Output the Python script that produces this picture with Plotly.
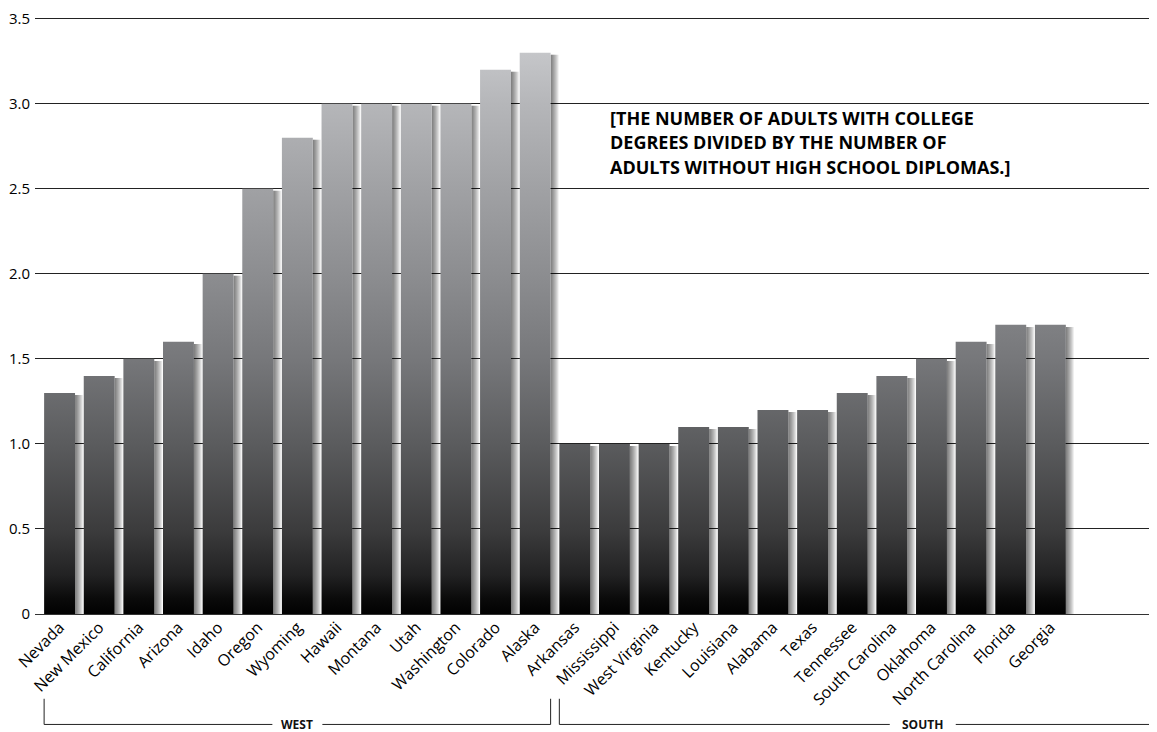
import plotly.graph_objects as go

states = ["Nevada", "New Mexico", "California", "Arizona", "Idaho", "Oregon", "Wyoming",
          "Hawaii", "Montana", "Utah", "Washington", "Colorado", "Alaska",
          "Arkansas", "Mississippi", "West Virginia", "Kentucky", "Louisiana", "Alabama",
          "Texas", "Tennessee", "South Carolina", "Oklahoma", "North Carolina", "Florida", "Georgia"]
values = [1.3, 1.4, 1.5, 1.6, 2.0, 2.5, 2.8, 3.0, 3.0, 3.0, 3.0, 3.2, 3.3,
          1.0, 1.0, 1.0, 1.1, 1.1, 1.2, 1.2, 1.3, 1.4, 1.5, 1.6, 1.7, 1.7]
regions = ["WEST"] * 13 + ["SOUTH"] * 13
ytick_vals = [0, 0.5, 1.0, 1.5, 2.0, 2.5, 3.0, 3.5]
ytick_text = ["0", "0.5", "1.0", "1.5", "2.0", "2.5", "3.0", "3.5"]
note_lines = ["[THE NUMBER OF ADULTS WITH COLLEGE",
              "DEGREES DIVIDED BY THE NUMBER OF",
              "ADULTS WITHOUT HIGH SCHOOL DIPLOMAS.]"]

W = 0.78          # bar width in category units
YMAX = 3.5
XMIN, XMAX = -0.62, 27.69
FONT = "Open Sans"
PX = 1 / 39.64    # one pixel in x data units

fig = go.Figure()

# soft drop shadows (layered translucent strips right of each bar)
for k in range(8, 0, -1):
    off = k * PX
    xs, ys = [], []
    for i, v in enumerate(values):
        x0 = i + W / 2
        x1 = x0 + off
        top = v - 0.012
        xs += [x0, x1, x1, x0, x0, None]
        ys += [0, 0, top, top, 0, None]
    fig.add_trace(go.Scatter(x=xs, y=ys, mode="lines", line=dict(width=0),
                             fill="toself", fillcolor="rgba(0,0,0,0.08)",
                             hoverinfo="skip", showlegend=False))

# bars with global vertical gradient
bx, by = [], []
for i, v in enumerate(values):
    bx += [i - W / 2, i + W / 2, i + W / 2, i - W / 2, i - W / 2, None]
    by += [0, 0, v, v, 0, None]
fig.add_trace(go.Scatter(
    x=bx, y=by, mode="lines", line=dict(width=0), fill="toself",
    fillgradient=dict(type="vertical", start=0, stop=YMAX,
                      colorscale=[[0.0, "#000000"], [0.03, "#0a0a0a"], [0.07, "#222223"],
                                  [0.143, "#3b3b3c"], [0.286, "#5a5b5d"], [0.429, "#76777a"],
                                  [0.571, "#8c8d90"], [0.714, "#a0a1a4"], [0.857, "#b5b6b9"],
                                  [0.943, "#c5c6c9"], [1.0, "#cdced0"]]),
    hoverinfo="skip", showlegend=False))

# region brackets under the axis labels
west_idx = [i for i, r in enumerate(regions) if r == "WEST"]
south_idx = [i for i, r in enumerate(regions) if r == "SOUTH"]
yb_top, yb = -0.142, -0.185
wx0, wx1 = west_idx[0] - W / 2, west_idx[-1] + W / 2
sx0 = south_idx[0] - W / 2
wc, wg = (wx0 + wx1) / 2, 25 * PX
sc, sg = 21.78, 33 * PX
line_style = dict(color="#222222", width=1)
fig.add_shape(type="path", xref="x", yref="paper",
              path=f"M {wc - wg},{yb} L {wx0},{yb} L {wx0},{yb_top}", line=line_style)
fig.add_shape(type="path", xref="x", yref="paper",
              path=f"M {wc + wg},{yb} L {wx1},{yb} L {wx1},{yb_top}", line=line_style)
fig.add_shape(type="path", xref="x", yref="paper",
              path=f"M {sc - sg},{yb} L {sx0},{yb} L {sx0},{yb_top}", line=line_style)
fig.add_shape(type="line", xref="x", yref="paper", x0=sc + sg, x1=XMAX, y0=yb, y1=yb,
              line=line_style)
fig.add_annotation(x=wc, y=yb, xref="x", yref="paper", text="<b>WEST</b>",
                   showarrow=False, yanchor="middle",
                   font=dict(family=FONT, size=12, color="#111"))
fig.add_annotation(x=sc, y=yb, xref="x", yref="paper", text="<b>SOUTH</b>",
                   showarrow=False, yanchor="middle",
                   font=dict(family=FONT, size=12, color="#111"))

for k, line in enumerate(note_lines):
    fig.add_annotation(x=0.511, y=0.855 - k * 25 / 600, xref="paper", yref="paper", text=line,
                       xanchor="left", yanchor="top", align="left", showarrow=False,
                       font=dict(family=FONT, size=18, color="#000", weight=700))

# page body has an 8px default margin, so the figure is sized to fit inside it
fig.update_layout(
    width=1149, height=724,
    margin=dict(l=27, r=0, t=6, b=118),
    paper_bgcolor="white", plot_bgcolor="white",
    font=dict(family=FONT, color="#000"),
    showlegend=False,
)
fig.update_xaxes(range=[XMIN, XMAX], tickvals=list(range(len(states))), ticktext=states,
                 tickangle=-45, showgrid=False, zeroline=False, showline=False,
                 ticks="", tickfont=dict(family=FONT, size=16, color="#000"), fixedrange=True)
fig.update_yaxes(range=[0, 3.51], tickvals=ytick_vals, ticktext=ytick_text,
                 showgrid=True, gridcolor="#222222", gridwidth=1,
                 zeroline=True, zerolinecolor="#333333", zerolinewidth=1,
                 showline=False, ticks="", ticklabelstandoff=4, ticklabeloverflow="allow",
                 tickfont=dict(family=FONT, size=15, color="#000"), fixedrange=True)

fig.write_html("out.html")
